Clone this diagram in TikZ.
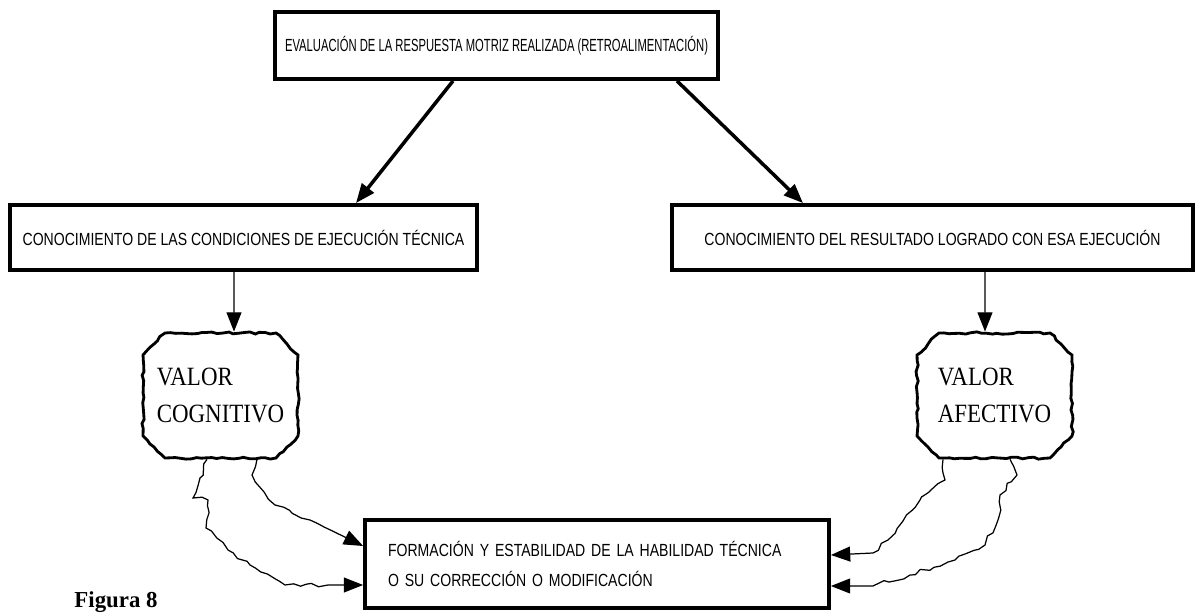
\documentclass[tikz,border=0pt]{standalone}
\usepackage{fontspec}
\setmainfont{Liberation Serif}
\newfontfamily\cajafont[FakeStretch=0.8]{Liberation Sans}
\newfontfamily\titfont[FakeStretch=0.64]{Liberation Sans}
\newfontfamily\nubefont[FakeStretch=0.87]{Liberation Serif}
\usetikzlibrary{arrows.meta,calc,shapes.misc,decorations.pathmorphing}

\begin{document}
\begin{tikzpicture}[x=0.02cm,y=-0.02cm]
            \tikzset{
                caja/.style={draw,line width=2.2pt,inner sep=0pt,font=\cajafont\fontsize{10}{12}\selectfont},
                nube/.style={chamfered rectangle,chamfered rectangle xsep=0.22cm,chamfered rectangle ysep=0.22cm,
                    draw,line width=1.6pt,decorate,decoration={random steps,segment length=3pt,amplitude=0.7pt},
                    minimum width=3.1cm,minimum height=2.5cm,inner sep=0pt,align=left,
                    font=\nubefont\fontsize{15}{21.5}\selectfont},
                flecha/.style={-{Triangle[length=11pt,width=8.5pt]}},
                onda/.style={flecha,line width=0.7pt,decorate,
                    decoration={random steps,segment length=4pt,amplitude=1.2pt,post length=20pt}},}
            \pgfmathsetseed{8}
            \useasboundingbox (0,0) rectangle (1203,614);
            \node[caja,minimum width=8.86cm,minimum height=1.34cm,font=\titfont\fontsize{10}{12}\selectfont] (eval) at (496.5,45.5)
                {EVALUACIÓN DE LA RESPUESTA MOTRIZ REALIZADA (RETROALIMENTACIÓN)};
            \node[caja,minimum width=9.34cm,minimum height=1.3cm] (tecnica) at (243.5,237.5)
                {CONOCIMIENTO DE LAS CONDICIONES DE EJECUCIÓN TÉCNICA};
            \node[caja,minimum width=10.42cm,minimum height=1.3cm] (resultado) at (932.5,237.5)
                {CONOCIMIENTO DEL RESULTADO LOGRADO CON ESA EJECUCIÓN};
            \node[caja,minimum height=1.76cm,text width=8.36cm,inner xsep=0.46cm,align=left] (formacion) at (597,564)
                {FORMACIÓN Y ESTABILIDAD DE LA HABILIDAD TÉCNICA\\[5pt]O SU CORRECCIÓN O MODIFICACIÓN};
            \node[nube] (cogn) at (220.5,395.5) {VALOR\\COGNITIVO};
            \node[nube] (afec) at (994.5,395.5) {VALOR\\AFECTIVO};
            \node[font=\bfseries\fontsize{13}{15}\selectfont] (fig) at (116,602) {Figura 8};
            \draw[flecha,line width=2pt] ($(eval.south)+(-43.5,0)$) -- ($(tecnica.north)+(112.5,0)$);
            \draw[flecha,line width=2pt] ($(eval.south)+(180.5,0)$) -- ($(resultado.north)+(-129.5,0)$);
            \draw[flecha,line width=0.8pt] ($(tecnica.south)+(-9.5,0)$) -- ($(cogn.north)+(13.5,0)$);
            \draw[flecha,line width=0.8pt] ($(resultado.south)+(52.5,0)$) -- ($(afec.north)+(-9.5,0)$);
            % las dos ondas de cada valor
            \draw[onda] ($(cogn.south)+(-13.5,0)$) -- (200,478) -- (193,498) -- (208,500) -- (206,528)
                -- (228,550) -- (250,565) -- (285,585) -- ($(formacion.west)+(0,21)$);
            \draw[onda] ($(cogn.south)+(36.5,0)$) -- (252,475) -- (275,505) -- (310,520) -- ($(formacion.west)+(0,-18)$);
            \draw[onda] ($(afec.south)+(-51.5,0)$) -- (945,480) -- (920,500) -- (888,540) -- (873,553)
                -- ($(formacion.east)+(0,-9)$);
            \draw[onda] ($(afec.south)+(15.5,0)$) -- (1017,475) -- (1000,495) -- (998,520) -- (985,545)
                -- (955,560) -- (910,575) -- (873,586) -- ($(formacion.east)+(0,22)$);
        \end{tikzpicture}
\end{document}
